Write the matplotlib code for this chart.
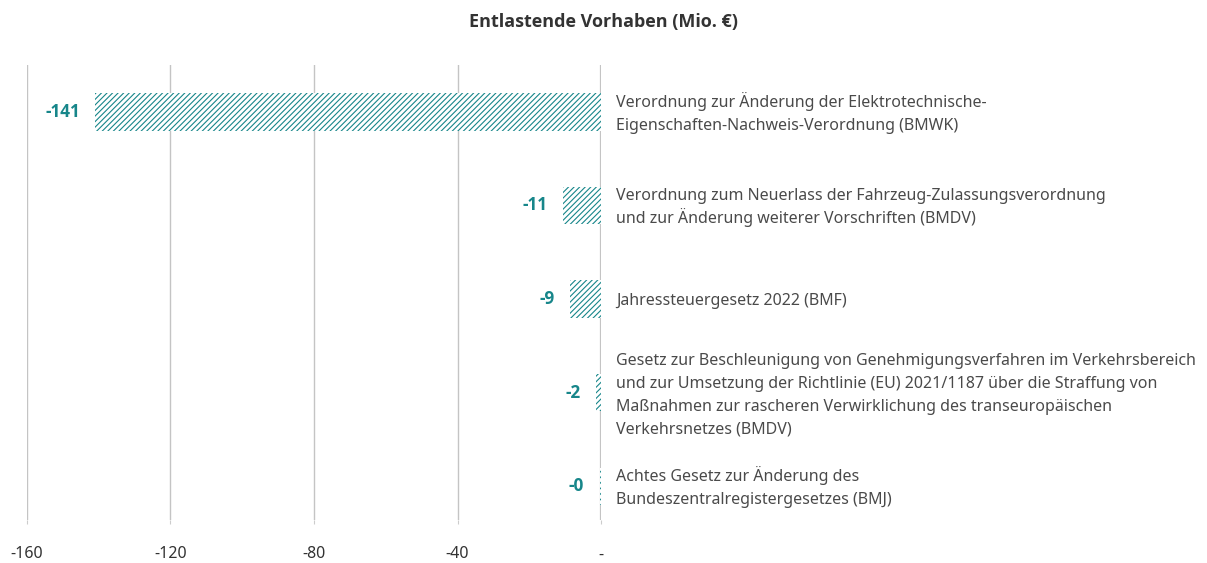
import matplotlib
matplotlib.use("Agg")
import matplotlib.pyplot as plt

categories = [
    "Verordnung zur Änderung der Elektrotechnische-\nEigenschaften-Nachweis-Verordnung (BMWK)",
    "Verordnung zum Neuerlass der Fahrzeug-Zulassungsverordnung\nund zur Änderung weiterer Vorschriften (BMDV)",
    "Jahressteuergesetz 2022 (BMF)",
    "Gesetz zur Beschleunigung von Genehmigungsverfahren im Verkehrsbereich\nund zur Umsetzung der Richtlinie (EU) 2021/1187 über die Straffung von\nMaßnahmen zur rascheren Verwirklichung des transeuropäischen\nVerkehrsnetzes (BMDV)",
    "Achtes Gesetz zur Änderung des\nBundeszentralregistergesetzes (BMJ)",
]
values = [-141, -10.6, -8.6, -1.4, -0.4]
value_labels = ["-141", "-11", "-9", "-2", "-0"]
xticks = [-160, -120, -80, -40, 0]
xtick_labels = ["-160", "-120", "-80", "-40", "-"]
title = "Entlastende Vorhaben (Mio. €)"

teal = "#17868a"
text_col = "#4a4a4a"
plt.rcParams['font.family'] = ['Noto Sans', 'DejaVu Sans']
plt.rcParams['hatch.linewidth'] = 0.8
bold_family = ['Open Sans', 'DejaVu Sans']

fig = plt.figure(figsize=(12.07, 5.63), dpi=100)
ax = fig.add_axes([27/1207, 43/563, 574/1207, 455/563])

ypos = list(range(len(values)))
bars = ax.barh(ypos, values, height=0.4, facecolor="white", edgecolor=teal,
               linewidth=0, hatch="//////", zorder=3)

ax.set_xlim(-160, 0)
ax.set_ylim(4.36, -0.5)
ax.set_xticks(xticks)
ax.set_xticklabels(xtick_labels, fontsize=11.5, color="#333333")
ax.set_yticks([])
ax.tick_params(axis='x', length=3, color="#cccccc", pad=16)
for s in ax.spines.values():
    s.set_visible(False)
for xt in xticks:
    ax.axvline(xt, color="#c4c4c4", lw=1.0 if xt != 0 else 1.6, zorder=1)

line_step = 16.5  # points between baselines
for y, v, lab, cat in zip(ypos, values, value_labels, categories):
    ax.annotate(lab, xy=(v, y), xytext=(-11, 0), textcoords="offset points",
                ha="right", va="center", fontsize=12.3, fontweight="bold",
                color=teal, family=bold_family)
    lines = cat.split("\n")
    n = len(lines)
    for i, ln in enumerate(lines):
        dy = -(i - (n - 1) / 2) * line_step - 4.6
        ax.annotate(ln, xy=(0, y), xytext=(11, dy), textcoords="offset points",
                    ha="left", va="baseline", fontsize=11.5, color=text_col,
                    annotation_clip=False)

fig.text(0.5, 1 - 22/563, title, ha="center", va="center", fontsize=13,
         fontweight="bold", color="#333333", family=bold_family)

fig.savefig("out.png", dpi=100)
